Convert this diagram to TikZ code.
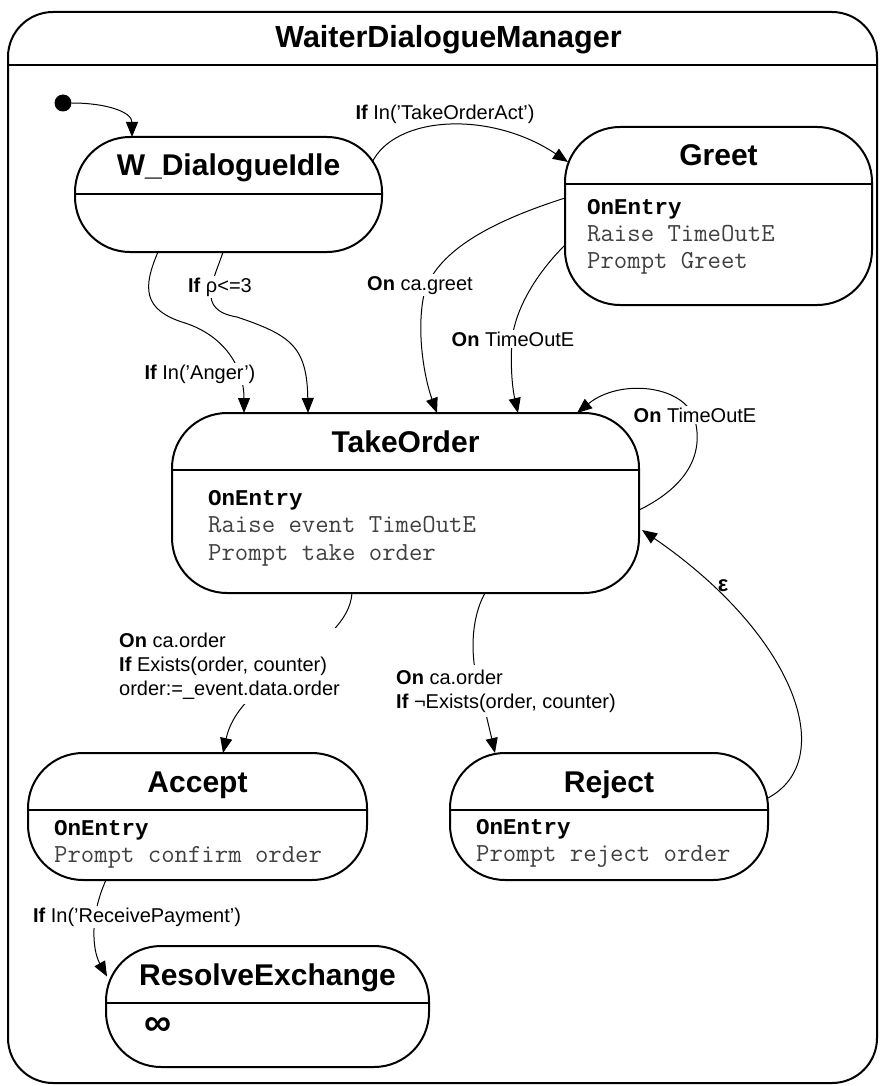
\documentclass[tikz,border=0pt]{standalone}
\usepackage{fontspec}
\setmainfont{Liberation Sans}
\newfontfamily\codefont{Liberation Mono}
\usetikzlibrary{arrows.meta,calc}

% entry-action compartment: bold heading, then plain typewriter lines
\newcommand{\entryhead}{\textcolor{black}{\fontsize{22.5}{27.5}\selectfont\codefont\bfseries OnEntry}}

\begin{document}
\begin{tikzpicture}[x=1pt,y=-1pt,
  frame/.style={draw, line width=2pt, rounded corners=45pt, inner sep=0pt, outer sep=0pt},
  state/.style={draw, line width=2pt, rounded corners=55pt, inner sep=0pt, outer sep=0pt},
  stitle/.style={anchor=base, inner sep=0pt, font=\fontsize{30}{36}\selectfont\bfseries},
  body/.style={anchor=base west, inner sep=0pt, font=\fontsize{26}{27.5}\selectfont\ttfamily, text=black!75},
  sep/.style={line width=2pt},
  trans/.style={line width=1pt, -{Triangle[length=15pt,width=12pt]}},
  lbl/.style={anchor=base, inner sep=2pt, fill=white, font=\fontsize{20}{24}\selectfont},
  lblfree/.style={anchor=base, inner sep=0pt, font=\fontsize{20}{24}\selectfont},
  lblblock/.style={anchor=base west, inner sep=2pt, fill=white, font=\fontsize{20}{24}\selectfont}
]
\useasboundingbox (0,0) rectangle (879,1086);

% enclosing state
\node[frame, minimum width=869pt, minimum height=1071pt] (mgr) at (442.5,547.5) {};
\draw[sep] ($(mgr.north west)+(0,53)$) -- ($(mgr.north east)+(0,53)$);
\node[stitle, font=\fontsize{30.5}{36}\selectfont\bfseries] (mgrT) at ($(mgr.north)+(6,36)$) {WaiterDialogueManager};

% initial pseudo-state
\node[circle, fill, inner sep=0pt, minimum size=17pt] (init) at (63,103) {};

% states
\node[state, minimum width=307pt, minimum height=115pt] (idle) at (228.5,194.5) {};
\node[state, minimum width=307pt, minimum height=178pt] (greet) at (718.5,216) {};
\node[state, minimum width=467pt, minimum height=180pt] (take) at (405.5,503) {};
\node[state, minimum width=339pt, minimum height=127pt] (accept) at (197.5,816.5) {};
\node[state, minimum width=318pt, minimum height=127pt] (reject) at (609,816.5) {};
\node[state, minimum width=323pt, minimum height=121pt] (resolve) at (267.5,1006.5) {};

% compartment separators
\foreach \s in {idle,greet,take,accept,reject,resolve}
  \draw[sep] ($(\s.north west)+(0,57)$) -- ($(\s.north east)+(0,57)$);

% state names
\node[stitle] (idleT) at ($(idle.north)+(0,39)$) {W\_DialogueIdle};
\node[stitle] (greetT) at ($(greet.north)+(0,39)$) {Greet};
\node[stitle] (takeT) at ($(take.north)+(0,39)$) {TakeOrder};
\node[stitle] (acceptT) at ($(accept.north)+(0,39)$) {Accept};
\node[stitle] (rejectT) at ($(reject.north)+(0,39)$) {Reject};
\node[stitle] (resolveT) at ($(resolve.north)+(0,39)$) {ResolveExchange};

% entry actions
\node[body] (greetB) at ($(greet.north west)+(22,87)$)
  {\begin{tabular}[t]{@{}l@{}}\entryhead\\Raise TimeOutE\\Prompt Greet\end{tabular}};
\node[body] (takeB) at ($(take.north west)+(36,92)$)
  {\begin{tabular}[t]{@{}l@{}}\entryhead\\Raise event TimeOutE\\Prompt take order\end{tabular}};
\node[body] (acceptB) at ($(accept.north west)+(26,82)$)
  {\begin{tabular}[t]{@{}l@{}}\entryhead\\Prompt confirm order\end{tabular}};
\node[body] (rejectB) at ($(reject.north west)+(26,81)$)
  {\begin{tabular}[t]{@{}l@{}}\entryhead\\Prompt reject order\end{tabular}};
\node[inner sep=0pt, font=\fontsize{38}{40}\selectfont\bfseries] (resolveB) at ($(resolve.north west)+(52,81)$) {∞};

% transitions
\draw[trans] (init.east) .. controls +(35,0) and +(0,-25) .. ($(idle.north west)+(57,0)$);
\draw[trans] ($(idle.east)+(-10,-32)$) .. controls +(23,-47) and +(-78,-52) .. ($(greet.west)+(3,-54)$);
\draw[trans] ($(greet.west)+(0,-18)$) .. controls +(-75,24) and +(15,-40) .. (425,290)
  .. controls +(-10,40) and +(-12,-33) .. ($(take.north west)+(265,0)$);
\draw[trans] ($(greet.west)+(0,29)$) .. controls +(-30,30) and +(3,-30) .. (512,340)
  .. controls +(-2,30) and +(-5,-22) .. ($(take.north west)+(346,0)$);
\draw[trans] ($(idle.south west)+(83,0)$) .. controls +(-15,35) and +(-43,-13) .. (185,323)
  .. controls +(40,13) and +(0,-45) .. ($(take.north west)+(72,0)$);
\draw[trans] ($(idle.south west)+(148,0)$) .. controls +(-9,28) and +(-42,-7) .. (237,317)
  .. controls +(53,18) and +(-1,-67) .. ($(take.north west)+(136,0)$);
\draw[trans] ($(take.east)+(0,7)$) .. controls +(41,-20) and +(10,40) .. (695,420)
  .. controls +(-10,-35) and +(43,-35) .. ($(take.north east)+(-62,0)$);
\draw[trans] ($(reject.east)+(-1,-18)$) .. controls +(73,-38) and +(153,105) .. ($(take.east)+(3,27)$);
\draw[trans] ($(take.south west)+(180,0)$) .. controls +(-4,57) and +(17,-78) .. ($(accept.north west)+(195,0)$);
\draw[trans] ($(take.south west)+(313,0)$) .. controls +(-15,27) and +(-10,-30) .. (480,690)
  .. controls +(5,20) and +(-5,-22) .. ($(reject.north west)+(45,0)$);
\draw[trans] ($(accept.south west)+(78,0)$) .. controls +(-16,35) and +(-15,-27) .. ($(resolve.west)+(1,-30)$);

% transition labels
\node[lblfree] (lAct) at (445,120) {\textbf{If} In(’TakeOrderAct’)};
\node[lbl] (lGreet) at (420,290) {\textbf{On} ca.greet};
\node[lbl] (lTime1) at (513,346) {\textbf{On} TimeOutE};
\node[lbl] (lAnger) at (200,379) {\textbf{If} In(’Anger’)};
\node[lbl] (lRho) at (220,292) {\textbf{If} ρ<=3};
\node[lbl] (lTime2) at (695,422) {\textbf{On} TimeOutE};
\node[lblfree, anchor=center, font=\fontsize{22}{24}\selectfont\bfseries] (lEps) at (723,586) {ε};
\node[lblblock] (lAcc) at (117,647)
  {\begin{tabular}[t]{@{}l@{}}\textbf{On} ca.order\\\textbf{If} Exists(order, counter)\\order:=\_event.data.order\end{tabular}};
\node[lblblock] (lRej) at (394,684)
  {\begin{tabular}[t]{@{}l@{}}\textbf{On} ca.order\\\textbf{If} ¬Exists(order, counter)\end{tabular}};
\node[lbl] (lPay) at (137,922) {\textbf{If} In(’ReceivePayment’)};
\end{tikzpicture}
\end{document}
